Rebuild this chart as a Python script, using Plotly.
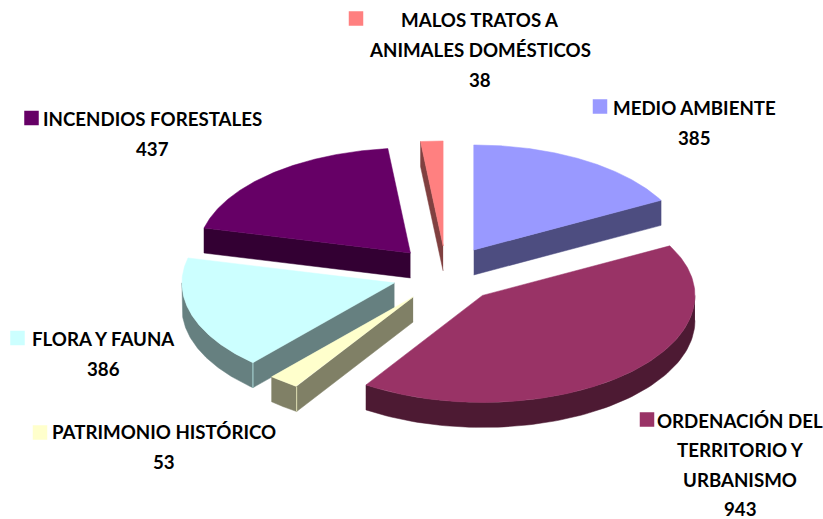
import numpy as np
import plotly.graph_objects as go

# data
categories = ["MEDIO AMBIENTE", "ORDENACIÓN DEL TERRITORIO Y URBANISMO", "PATRIMONIO HISTÓRICO",
              "FLORA Y FAUNA", "INCENDIOS FORESTALES", "MALOS TRATOS A ANIMALES DOMÉSTICOS"]
values = [385, 943, 53, 386, 437, 38]
top_colors = ["#9999FF", "#993366", "#FFFFCC", "#CCFFFF", "#660066", "#FF8080"]
side_colors = ["#4D4D80", "#4D1A33", "#808066", "#668080", "#330033", "#804040"]
label_lines = [["MEDIO AMBIENTE", "385"],
               ["ORDENACIÓN DEL", "TERRITORIO Y", "URBANISMO", "943"],
               ["PATRIMONIO HISTÓRICO", "53"],
               ["FLORA Y FAUNA", "386"],
               ["INCENDIOS FORESTALES", "437"],
               ["MALOS TRATOS A", "ANIMALES DOMÉSTICOS", "38"]]

# layout of the 3-D projection and labels (pixels)
W, H = 823, 519
CX, CY, RX, DEPTH = 446, 274.4, 212.5, 25
RY_BACK, RY_FRONT = 105, 107
EXPLODE_X, EXPLODE_Y = 54, 28.5
label_center_x = [694, 740, 164, 103, 152, 480]
label_first_y = [108, 420.5, 432, 339, 119, 20]
line_gap = [30, 29.5, 30, 30, 30, 30]
key_xy = [(600, 106.5), (647, 419.5), (40, 432.5), (17.5, 338), (31.5, 118), (356, 18.5)]
FONT = "Lato"
FONT_SIZE = 18.7

fig = go.Figure()


def poly(xs, ys, color):
    fig.add_trace(go.Scatter(x=xs, y=ys, mode="lines", fill="toself", fillcolor=color,
                             line=dict(color=color, width=0.5), hoverinfo="skip", showlegend=False))


total = sum(values)
edges = np.concatenate([[0], np.cumsum(values)]) / total * 2 * np.pi
draw_order = [5, 4, 0, 3, 2, 1]
for i in draw_order:
    a, b = edges[i], edges[i + 1]
    mid = (a + b) / 2
    cx = CX + EXPLODE_X * np.sin(mid)
    cy = CY - EXPLODE_Y * np.cos(mid)
    px = lambda t: cx + RX * np.sin(t)
    py = lambda t: cy - np.where(np.cos(t) > 0, RY_BACK, RY_FRONT) * np.cos(t)
    # radial cut faces that look toward the viewer
    if np.cos(a - np.pi / 2) < -1e-6:
        poly([cx, px(a), px(a), cx], [cy, py(a), py(a) + DEPTH, cy + DEPTH], side_colors[i])
    if np.cos(b + np.pi / 2) < -1e-6:
        poly([cx, px(b), px(b), cx], [cy, py(b), py(b) + DEPTH, cy + DEPTH], side_colors[i])
    # outer rim
    lo, hi = max(a, np.pi / 2), min(b, 3 * np.pi / 2)
    if hi > lo:
        t = np.linspace(lo, hi, 80)
        poly(np.r_[px(t), px(t)[::-1]], np.r_[py(t), py(t)[::-1] + DEPTH], side_colors[i])
        # pale vertical seam where a visible cut face meets the rim
        if np.cos(a - np.pi / 2) < -1e-6 and a > np.pi / 2:
            fig.add_trace(go.Scatter(x=[px(a), px(a)], y=[py(a), py(a) + DEPTH], mode="lines",
                                     line=dict(color=top_colors[i], width=0.7),
                                     hoverinfo="skip", showlegend=False))
    # top face
    t = np.linspace(a, b, 160)
    poly(np.r_[cx, px(t), cx], np.r_[cy, py(t), cy], top_colors[i])

fig.add_trace(go.Scatter(x=[k[0] for k in key_xy], y=[k[1] for k in key_xy], mode="markers",
                         marker=dict(symbol="square", size=14.5, color=top_colors, line=dict(width=0)),
                         hoverinfo="skip", showlegend=False))

for lines, x, y0, gap in zip(label_lines, label_center_x, label_first_y, line_gap):
    for j, line in enumerate(lines):
        fig.add_annotation(x=x, y=y0 + j * gap, text=f"<b>{line}</b>", showarrow=False,
                           xanchor="center", yanchor="middle",
                           font=dict(family=FONT, size=FONT_SIZE, color="#000000"))

fig.update_layout(width=W, height=H, margin=dict(l=0, r=0, t=0, b=0), autosize=False,
                  paper_bgcolor="white", plot_bgcolor="white", showlegend=False,
                  xaxis=dict(range=[0, W], visible=False, fixedrange=True),
                  yaxis=dict(range=[H, 0], visible=False, fixedrange=True))
fig.write_html("out.html", config=dict(displayModeBar=False),
               post_script="document.body.style.margin='0';document.body.style.overflow='hidden';")
